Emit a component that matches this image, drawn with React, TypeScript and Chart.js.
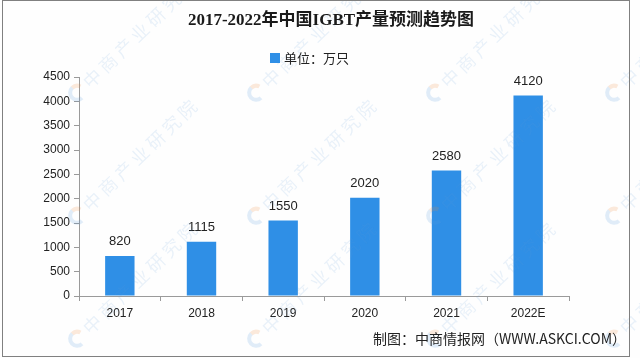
import React, { useEffect, useRef } from 'react';
import { Chart, registerables } from 'chart.js';

Chart.register(...registerables);

const categories = ['2017', '2018', '2019', '2020', '2021', '2022E'];
const values = [820, 1115, 1550, 2020, 2580, 4120];
const seriesName = '单位：万只';
const titleText = '2017-2022年中国IGBT产量预测趋势图';
const footerText = '制图：中商情报网（WWW.ASKCI.COM）';
const watermarkText = '中商产业研究院';
const yMin = 0;
const yMax = 4500;
const yStep = 500;

const BAR_COLOR = '#2f8fe6';
const W = 640;
const H = 358;

export default function App() {
  const ref = useRef<HTMLCanvasElement>(null);

  useEffect(() => {
    document.body.style.margin = '0';
    const canvas = ref.current;
    if (!canvas) return;

    const decor = {
      id: 'decor',
      beforeDraw(chart: any) {
        const ctx = chart.ctx;
        ctx.save();
        ctx.fillStyle = '#fefefe';
        ctx.fillRect(0, 0, W, H);
        ctx.restore();
      },
      afterDatasetsDraw(chart: any) {
        const ctx = chart.ctx;
        const meta = chart.getDatasetMeta(0);
        ctx.save();
        ctx.font = '13px "Liberation Sans", Arial, sans-serif';
        ctx.fillStyle = '#222';
        ctx.textAlign = 'center';
        ctx.textBaseline = 'bottom';
        meta.data.forEach((el: any, i: number) => {
          ctx.fillText(String(values[i]), el.x, el.y - 8);
        });
        ctx.restore();
      },
      afterDraw(chart: any) {
        const ctx = chart.ctx;
        ctx.save();
        // watermarks
        const xs = [80, 259, 438, 617];
        const ys = [-33, 90, 213, 336];
        ys.forEach((y) => {
          xs.forEach((x) => {
            ctx.save();
            ctx.translate(x, y);
            ctx.rotate(-Math.PI / 4.1);
            ctx.lineWidth = 4;
            ctx.globalAlpha = 0.18;
            ctx.strokeStyle = '#5b9be0';
            ctx.beginPath();
            ctx.arc(-4, 0, 7, Math.PI * 0.5, Math.PI * 1.5);
            ctx.stroke();
            ctx.strokeStyle = '#f08a3c';
            ctx.beginPath();
            ctx.arc(-4, 0, 7, Math.PI * 1.5, Math.PI * 1.9);
            ctx.stroke();
            ctx.globalAlpha = 0.13;
            ctx.fillStyle = '#5a98d8';
            ctx.font = '18px "Noto Sans CJK SC", sans-serif';
            (ctx as any).letterSpacing = '4px';
            ctx.textBaseline = 'middle';
            ctx.textAlign = 'left';
            ctx.fillText(watermarkText, 8, 0);
            ctx.restore();
          });
        });
        ctx.restore();

        ctx.save();
        // title
        ctx.fillStyle = '#1a1a1a';
        ctx.font = 'bold 17px "Liberation Serif", "Noto Sans CJK SC", serif';
        ctx.textAlign = 'center';
        ctx.textBaseline = 'middle';
        ctx.fillText(titleText, 331, 21);
        // legend
        ctx.font = '13px "Noto Sans CJK SC", sans-serif';
        ctx.textAlign = 'left';
        ctx.fillStyle = BAR_COLOR;
        ctx.fillRect(270, 53, 10, 10);
        ctx.fillStyle = '#222';
        ctx.fillText(seriesName, 284, 58);
        // footer
        ctx.font = '14px "Noto Sans CJK SC", sans-serif';
        ctx.textAlign = 'right';
        ctx.fillStyle = '#222';
        ctx.fillText(footerText, 626, 339);
        // frame
        ctx.strokeStyle = '#808080';
        ctx.lineWidth = 1;
        ctx.strokeRect(2.5, 0.5, 627, 356);
        ctx.restore();
      },
    };

    const chart = new Chart(canvas, {
      type: 'bar',
      data: {
        labels: categories,
        datasets: [
          {
            label: seriesName,
            data: values,
            backgroundColor: BAR_COLOR,
            borderWidth: 0,
            categoryPercentage: 1,
            barPercentage: 0.36,
          },
        ],
      },
      options: {
        responsive: false,
        animation: false,
        devicePixelRatio: 1,
        layout: { padding: { top: 77, left: 0, right: 71, bottom: 0 } },
        plugins: {
          legend: { display: false },
          title: { display: false },
          tooltip: { enabled: false },
        },
        scales: {
          x: {
            offset: true,
            grid: {
              offset: true,
              drawOnChartArea: false,
              drawTicks: true,
              tickLength: 5,
              color: '#9a9a9a',
            },
            border: { display: true, color: '#9a9a9a' },
            ticks: {
              color: '#222',
              font: { size: 12, family: '"Liberation Sans", Arial, sans-serif' },
              padding: 5,
            },
            afterFit(scale: any) {
              scale.height = 62;
            },
          },
          y: {
            min: yMin,
            max: yMax,
            ticks: {
              stepSize: yStep,
              color: '#222',
              font: { size: 12, family: '"Liberation Sans", Arial, sans-serif' },
              padding: 4,
              callback: (v: any) => String(v),
            },
            grid: {
              drawOnChartArea: false,
              drawTicks: true,
              tickLength: 5,
              color: '#9a9a9a',
            },
            border: { display: true, color: '#9a9a9a' },
            afterFit(scale: any) {
              scale.width = 79;
            },
          },
        },
      },
      plugins: [decor],
    });

    return () => chart.destroy();
  }, []);

  return (
    <div style={{ position: 'fixed', left: 0, top: 0, width: W, height: H }}>
      <canvas ref={ref} width={W} height={H} style={{ width: W, height: H, display: 'block' }} />
    </div>
  );
}
